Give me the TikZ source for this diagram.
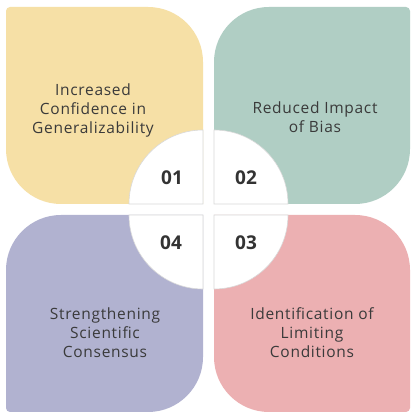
\documentclass[tikz,border=0pt]{standalone}
\usepackage{fontspec}
\setmainfont{Open Sans}
\newfontfamily\labelfont[LetterSpace=4.5]{Open Sans}
\definecolor{tyellow}{HTML}{F6E0A6}
\definecolor{tgreen}{HTML}{B0CEC4}
\definecolor{tpink}{HTML}{ECB0B2}
\definecolor{tpurple}{HTML}{B1B2D0}
\definecolor{txt}{HTML}{3A3A3A}
\definecolor{num}{HTML}{333333}
\tikzset{
  label/.style={align=center, text=txt, font=\labelfont\fontsize{15.5}{19}\selectfont, inner sep=0pt},
  numlabel/.style={text=num, font=\fontsize{19}{22}\selectfont\bfseries, inner sep=0pt},
  quarter/.style={fill=white, draw=black!15, line width=0.6pt}
}
\begin{document}
\begin{tikzpicture}[x=1pt,y=1pt]
\useasboundingbox[fill=white] (0,0) rectangle (416,417);
% tiles
\fill[tyellow] (6,268) -- (6,406) arc[start angle=180,end angle=90,radius=4] -- (148,410) arc[start angle=90,end angle=0,radius=55] -- (203,213) -- (61,213) arc[start angle=270,end angle=180,radius=55] -- cycle;
\fill[tgreen] (214,213) -- (214,355) arc[start angle=180,end angle=90,radius=55] -- (406,410) arc[start angle=90,end angle=0,radius=4] -- (410,268) arc[start angle=0,end angle=-90,radius=55] -- cycle;
\fill[tpurple] (6,147) arc[start angle=180,end angle=90,radius=55] -- (203,202) -- (203,60) arc[start angle=0,end angle=-90,radius=55] -- (10,5) arc[start angle=270,end angle=180,radius=4] -- cycle;
\fill[tpink] (214,202) -- (355,202) arc[start angle=90,end angle=0,radius=55] -- (410,9) arc[start angle=0,end angle=-90,radius=4] -- (269,5) arc[start angle=270,end angle=180,radius=55] -- cycle;
% central quarters
\draw[quarter] (203,213) -- (129,213) arc[start angle=180,end angle=90,radius=74] -- cycle;
\draw[quarter] (214,213) -- (288,213) arc[start angle=0,end angle=90,radius=74] -- cycle;
\draw[quarter] (203,202) -- (203,128) arc[start angle=270,end angle=180,radius=74] -- cycle;
\draw[quarter] (214,202) -- (214,128) arc[start angle=270,end angle=360,radius=74] -- cycle;
% texts
\node[label] (t1) at (93,307) {Increased\\Confidence in\\Generalizability};
\node[label] (t2) at (315,300) {Reduced Impact\\of Bias};
\node[label] (t3) at (312,84) {Identification of\\Limiting\\Conditions};
\node[label] (t4) at (105,84) {Strengthening\\Scientific\\Consensus};
% numbers
\node[numlabel] (n1) at (172,239) {01};
\node[numlabel] (n2) at (246,239) {02};
\node[numlabel] (n3) at (246,174) {03};
\node[numlabel] (n4) at (171,174) {04};
\end{tikzpicture}
\end{document}
